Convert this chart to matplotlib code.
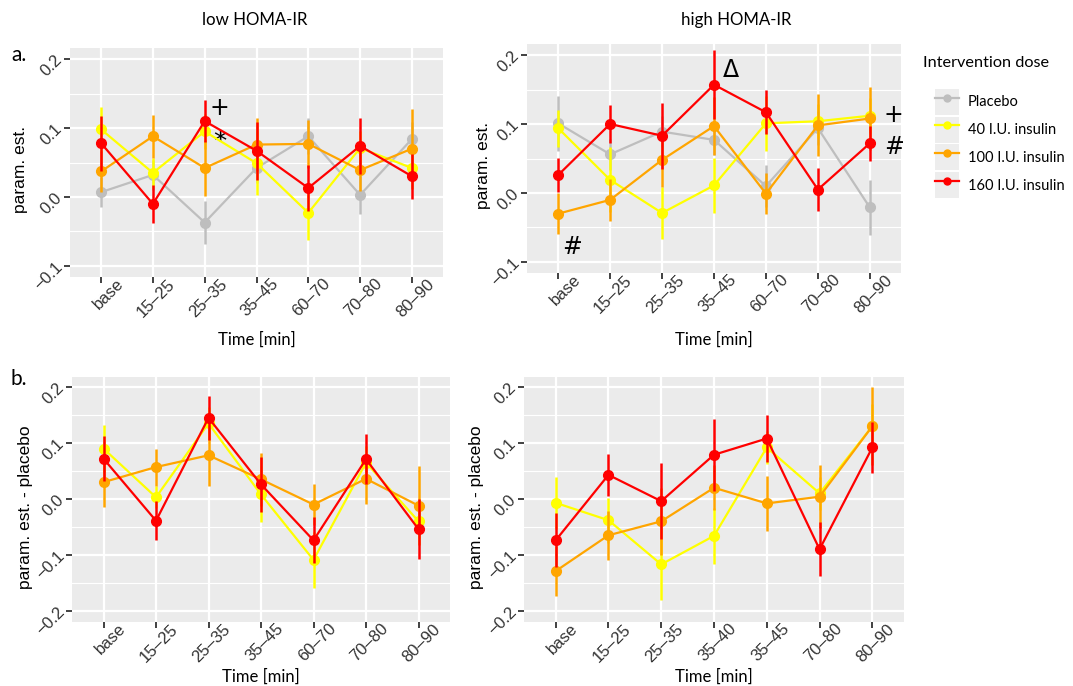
import matplotlib.pyplot as plt
import numpy as np
from matplotlib.lines import Line2D
from matplotlib.patches import Patch
from matplotlib.legend_handler import HandlerTuple
from matplotlib.transforms import ScaledTranslation

# category labels
cats_a = ['base', '15–25', '25–35', '35–45', '60–70', '70–80', '80–90']
cats_b_high = ['base', '15–25', '25–35', '35–40', '35–45', '70–80', '80–90']

groups = ['Placebo', '40 I.U. insulin', '100 I.U. insulin', '160 I.U. insulin']
colors = ['#BEBEBE', '#FFFF00', '#FFA500', '#FF0000']

# a. low HOMA-IR  (estimate, error half-width)
low_placebo = [0.007, 0.032, -0.037, 0.042, 0.088, 0.003, 0.084]
low_placebo_err = [0.022, 0.022, 0.031, 0.022, 0.026, 0.028, 0.025]
low_40 = [0.098, 0.035, 0.095, 0.049, -0.023, 0.071, 0.042]
low_40_err = [0.033, 0.022, 0.025, 0.046, 0.039, 0.025, 0.020]
low_100 = [0.037, 0.088, 0.042, 0.076, 0.077, 0.039, 0.070]
low_100_err = [0.030, 0.031, 0.041, 0.039, 0.035, 0.030, 0.058]
low_160 = [0.078, -0.010, 0.110, 0.067, 0.013, 0.074, 0.030]
low_160_err = [0.040, 0.028, 0.030, 0.042, 0.034, 0.040, 0.033]

# a. high HOMA-IR
high_placebo = [0.101, 0.056, 0.089, 0.077, 0.010, 0.094, -0.021]
high_placebo_err = [0.040, 0.022, 0.022, 0.022, 0.030, 0.025, 0.040]
high_40 = [0.094, 0.019, -0.029, 0.011, 0.101, 0.104, 0.112]
high_40_err = [0.027, 0.047, 0.038, 0.040, 0.040, 0.025, 0.025]
high_100 = [-0.030, -0.010, 0.048, 0.097, -0.001, 0.098, 0.108]
high_100_err = [0.030, 0.031, 0.040, 0.042, 0.030, 0.045, 0.046]
high_160 = [0.026, 0.100, 0.083, 0.157, 0.117, 0.005, 0.072]
high_160_err = [0.025, 0.028, 0.048, 0.050, 0.032, 0.031, 0.025]

# b. difference to placebo, low HOMA-IR
dlow_40 = [0.090, 0.003, 0.135, 0.008, -0.109, 0.065, -0.040]
dlow_40_err = [0.042, 0.020, 0.030, 0.050, 0.050, 0.030, 0.030]
dlow_100 = [0.030, 0.057, 0.078, 0.035, -0.010, 0.036, -0.012]
dlow_100_err = [0.045, 0.033, 0.055, 0.048, 0.036, 0.045, 0.070]
dlow_160 = [0.072, -0.039, 0.145, 0.026, -0.074, 0.071, -0.054]
dlow_160_err = [0.040, 0.035, 0.039, 0.049, 0.041, 0.045, 0.054]

# b. difference to placebo, high HOMA-IR
dhigh_40 = [-0.007, -0.038, -0.117, -0.066, 0.092, 0.010, 0.130]
dhigh_40_err = [0.047, 0.040, 0.063, 0.050, 0.030, 0.030, 0.040]
dhigh_100 = [-0.129, -0.065, -0.040, 0.020, -0.008, 0.004, 0.130]
dhigh_100_err = [0.045, 0.044, 0.060, 0.040, 0.049, 0.056, 0.070]
dhigh_160 = [-0.074, 0.043, -0.004, 0.079, 0.108, -0.090, 0.092]
dhigh_160_err = [0.048, 0.037, 0.068, 0.064, 0.042, 0.048, 0.046]

W, H = 1073, 686
fig = plt.figure(figsize=(W / 100, H / 100), dpi=100)

def px_axes(x0, y0, x1, y1):
    return fig.add_axes([x0 / W, 1 - y1 / H, (x1 - x0) / W, (y1 - y0) / H])

def style(ax, cats, yticks, ylim, ylabel, xlab_y, ylab_x):
    ax.set_facecolor('#EBEBEB')
    for s in ax.spines.values():
        s.set_visible(False)
    x = np.arange(len(cats))
    ax.set_xlim(-0.6, len(cats) - 0.4)
    ax.set_ylim(*ylim)
    ax.set_xticks(x)
    ax.set_xticklabels(cats, rotation=45, ha='right', va='baseline', rotation_mode='anchor',
                       fontsize=12, color='#333333', family='Liberation Sans')
    ax.set_yticks(yticks)
    ax.set_yticklabels([('−' if v < 0 else '') + '%.1f' % abs(v) for v in yticks],
                       rotation=45, ha='right', va='baseline', rotation_mode='anchor',
                       fontsize=12, color='#333333', family='Liberation Sans')
    minor = [(a + b) / 2 for a, b in zip(yticks[:-1], yticks[1:])]
    ax.set_yticks(minor, minor=True)
    ax.tick_params(which='minor', length=0)
    ax.tick_params(axis='x', which='major', length=4, width=1.3, color='#333333', pad=1.5)
    ax.tick_params(axis='y', which='major', length=4, width=1.3, color='#333333', pad=1)
    ax.grid(True, which='major', color='white', lw=1.6)
    ax.grid(True, which='minor', axis='y', color='white', lw=0.8)
    ax.set_axisbelow(True)
    ax.set_ylabel(ylabel, fontsize=12.5, family='Liberation Sans', va='center')
    ax.yaxis.set_label_coords(ylab_x, 0.47)
    ax.set_xlabel('Time [min]', fontsize=12, family='Lato', va='top')
    ax.xaxis.set_label_coords(0.5, xlab_y)
    # ggplot puts the rotated labels to the right of the tick
    xoff = ScaledTranslation(0.23, 0, fig.dpi_scale_trans)
    for lab in ax.get_xticklabels():
        lab.set_transform(lab.get_transform() + xoff)
    yoff = ScaledTranslation(0, -0.02, fig.dpi_scale_trans)
    for lab in ax.get_yticklabels():
        lab.set_transform(lab.get_transform() + yoff)

def draw(ax, vals, errs, cols):
    x = np.arange(len(vals[0]))
    for k, (v, e, c) in enumerate(zip(vals, errs, cols)):
        v = np.array(v)
        e = np.array(e)
        ax.vlines(x, v - e, v + e, color=c, lw=1.8, zorder=3 + k)
        ax.plot(x, v, '-', color=c, lw=1.6, zorder=3 + k)
        ax.plot(x, v, 'o', color=c, ms=7, zorder=3 + k)

ax1 = px_axes(70, 48, 443, 277)
style(ax1, cats_a, [-0.1, 0.0, 0.1, 0.2], (-0.116, 0.216), 'param. est.', -0.24, -0.134)
draw(ax1, [low_placebo, low_40, low_100, low_160],
     [low_placebo_err, low_40_err, low_100_err, low_160_err], colors)
ax1.text(2.29, 0.129, '+', fontsize=17, ha='center', va='center')
ax1.text(2.29, 0.078, '*', fontsize=19, ha='center', va='center')

ax2 = px_axes(527, 44, 901, 273)
style(ax2, cats_a, [-0.1, 0.0, 0.1, 0.2], (-0.116, 0.216), 'param. est.', -0.255, -0.115)
draw(ax2, [high_placebo, high_40, high_100, high_160],
     [high_placebo_err, high_40_err, high_100_err, high_160_err], colors)
ax2.text(3.33, 0.178, 'Δ', fontsize=17, ha='center', va='center')
ax2.text(6.46, 0.113, '+', fontsize=17, ha='center', va='center', clip_on=False)
ax2.text(6.46, 0.066, '#', fontsize=17, ha='center', va='center', clip_on=False)
ax2.text(0.26, -0.078, '#', fontsize=17, ha='center', va='center')

ax3 = px_axes(72, 377, 450, 622)
style(ax3, cats_a, [-0.2, -0.1, 0.0, 0.1, 0.2], (-0.22, 0.218), 'param. est. - placebo', -0.19, -0.122)
draw(ax3, [dlow_40, dlow_100, dlow_160],
     [dlow_40_err, dlow_100_err, dlow_160_err], colors[1:])

ax4 = px_axes(524, 377, 904, 622)
style(ax4, cats_b_high, [-0.2, -0.1, 0.0, 0.1, 0.2], (-0.22, 0.218), 'param. est. - placebo', -0.19, -0.124)
draw(ax4, [dhigh_40, dhigh_100, dhigh_160],
     [dhigh_40_err, dhigh_100_err, dhigh_160_err], colors[1:])

# column titles and panel letters
fig.text(255 / W, 1 - 20 / H, 'low HOMA-IR', fontsize=12.2, family='Lato', ha='center', va='center')
fig.text(736 / W, 1 - 20 / H, 'high HOMA-IR', fontsize=12.2, family='Lato', ha='center', va='center')
fig.text(11 / W, 1 - 55 / H, 'a.', fontsize=15, family='Lato', ha='left', va='center')
fig.text(11 / W, 1 - 379 / H, 'b.', fontsize=15, family='Lato', ha='left', va='center')

# legend
fig.text(923 / W, 1 - 63 / H, 'Intervention dose', fontsize=11.7, family='Lato', ha='left', va='center')
handles = [(Patch(facecolor='#EDEDED', edgecolor='none'),
            Line2D([], [], color=c, lw=1.6, marker='o', ms=5)) for c in colors]
fig.legend(handles, groups, handler_map={tuple: HandlerTuple(ndivide=1, pad=0)},
           loc='upper left', bbox_to_anchor=(935 / W, 1 - 89 / H), frameon=False,
           borderpad=0, borderaxespad=0,
           prop={'family': 'Lato', 'size': 10.5},
           handlelength=1.65, handleheight=2.35, labelspacing=0.13, handletextpad=0.6)

fig.savefig('out.png', dpi=100)
